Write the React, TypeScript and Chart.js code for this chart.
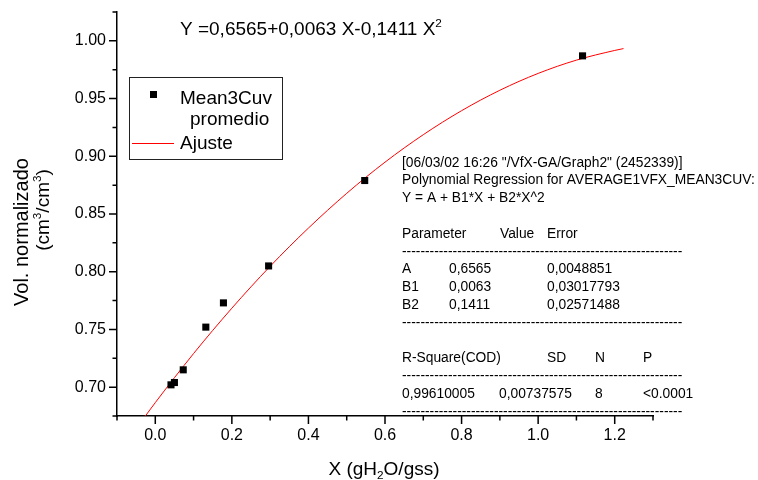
import React, { useEffect, useRef } from "react";
import { Chart, registerables } from "chart.js";

Chart.register(...registerables);

const FONT = "'Liberation Sans', Arial, sans-serif";

// Measured data points (Mean3Cuv promedio)
const MEAN_X = [0.041, 0.05, 0.073, 0.132, 0.178, 0.296, 0.547, 1.116];
const MEAN_Y = [0.702, 0.704, 0.715, 0.752, 0.773, 0.805, 0.879, 0.987];

// Fitted curve (Ajuste)
const FIT_X = [-0.026, 0.0, 0.1, 0.2, 0.3, 0.4, 0.5, 0.6, 0.7, 0.8, 0.9, 1.0, 1.1, 1.2, 1.223];
const FIT_Y = [0.675, 0.6866, 0.7291, 0.7684, 0.8047, 0.8378, 0.8679, 0.8949, 0.9187, 0.9395, 0.9572, 0.9718, 0.9833, 0.9917, 0.9933];

// Axis ticks
const X_TICKS = [0, 0.2, 0.4, 0.6, 0.8, 1.0, 1.2];
const X_MINOR = [-0.1, 0.1, 0.3, 0.5, 0.7, 0.9, 1.1, 1.3];
const Y_TICKS = [0.7, 0.75, 0.8, 0.85, 0.9, 0.95, 1.0];
const Y_MINOR = [0.675, 0.725, 0.775, 0.825, 0.875, 0.925, 0.975, 1.025];

// Texts
const EQUATION = "Y =0,6565+0,0063 X-0,1411 X";
const LEGEND_LABELS = ["Mean3Cuv", "promedio", "Ajuste"];
const REPORT_HEADER = [
  "[06/03/02 16:26 \"/VfX-GA/Graph2\" (2452339)]",
  "Polynomial Regression for AVERAGE1VFX_MEAN3CUV:",
  "Y = A + B1*X + B2*X^2",
];
const PARAM_HEAD = ["Parameter", "Value", "Error"];
const PARAM_NAMES = ["A", "B1", "B2"];
const PARAM_VALUES = ["0,6565", "0,0063", "0,1411"];
const PARAM_ERRORS = ["0,0048851", "0,03017793", "0,02571488"];
const STAT_HEAD = ["R-Square(COD)", "SD", "N", "P"];
const STAT_VALUES = ["0,99610005", "0,00737575", "8", "<0.0001"];

type Seg = { t: string; mode?: "sup" | "sub" };

function drawRich(ctx: CanvasRenderingContext2D, segs: Seg[], x: number, y: number, size: number, align: "left" | "center") {
  const widths = segs.map((s) => {
    ctx.font = `${s.mode ? size * 0.62 : size}px ${FONT}`;
    return ctx.measureText(s.t).width;
  });
  const total = widths.reduce((a, b) => a + b, 0);
  let cx = align === "center" ? x - total / 2 : x;
  ctx.textAlign = "left";
  ctx.textBaseline = "alphabetic";
  segs.forEach((s, i) => {
    ctx.font = `${s.mode ? size * 0.62 : size}px ${FONT}`;
    const dy = s.mode === "sup" ? -size * 0.42 : s.mode === "sub" ? size * 0.22 : 0;
    ctx.fillText(s.t, cx, y + dy);
    cx += widths[i];
  });
}

const decorPlugin = {
  id: "decor",
  afterDraw(chart: any) {
    const ctx: CanvasRenderingContext2D = chart.ctx;
    const xs = chart.scales.x;
    const ys = chart.scales.y;
    const area = chart.chartArea;
    ctx.save();
    ctx.fillStyle = "#000";
    ctx.strokeStyle = "#000";

    // tick marks
    ctx.lineWidth = 1.5;
    ctx.beginPath();
    X_TICKS.forEach((v) => {
      const px = xs.getPixelForValue(v);
      ctx.moveTo(px, area.bottom);
      ctx.lineTo(px, area.bottom + 8);
    });
    X_MINOR.forEach((v) => {
      const px = xs.getPixelForValue(v);
      ctx.moveTo(px, area.bottom);
      ctx.lineTo(px, area.bottom + 4.5);
    });
    Y_TICKS.forEach((v) => {
      const py = ys.getPixelForValue(v);
      ctx.moveTo(area.left, py);
      ctx.lineTo(area.left - 8, py);
    });
    Y_MINOR.forEach((v) => {
      const py = ys.getPixelForValue(v);
      ctx.moveTo(area.left, py);
      ctx.lineTo(area.left - 4.5, py);
    });
    ctx.stroke();

    // equation title
    drawRich(ctx, [{ t: EQUATION }, { t: "2", mode: "sup" }], 180, 35, 19, "left");

    // legend box
    ctx.lineWidth = 1;
    ctx.strokeStyle = "#222";
    ctx.strokeRect(129.5, 77.5, 153, 82);
    ctx.fillStyle = "#000";
    ctx.fillRect(150, 91, 7, 7);
    ctx.font = `19px ${FONT}`;
    ctx.textAlign = "left";
    ctx.textBaseline = "alphabetic";
    ctx.fillText(LEGEND_LABELS[0], 180, 104);
    ctx.fillText(LEGEND_LABELS[1], 190, 125);
    ctx.fillText(LEGEND_LABELS[2], 180, 148.5);
    ctx.strokeStyle = "#ff0000";
    ctx.beginPath();
    ctx.moveTo(132, 143.5);
    ctx.lineTo(174, 143.5);
    ctx.stroke();

    // axis titles
    ctx.fillStyle = "#000";
    drawRich(ctx, [{ t: "X (gH" }, { t: "2", mode: "sub" }, { t: "O/gss)" }], 384, 475, 19, "center");
    ctx.save();
    ctx.translate(28, 232);
    ctx.rotate(-Math.PI / 2);
    drawRich(ctx, [{ t: "Vol. normalizado" }], 0, 0, 20, "center");
    ctx.restore();
    ctx.save();
    ctx.translate(49, 210);
    ctx.rotate(-Math.PI / 2);
    drawRich(ctx, [{ t: "(cm" }, { t: "3", mode: "sup" }, { t: "/cm" }, { t: "3", mode: "sup" }, { t: ")" }], 0, 0, 19, "center");
    ctx.restore();

    // regression report
    const fs = 13.8;
    const lh = 17.8;
    const b0 = 166.5;
    const L = 402;
    ctx.font = `${fs}px ${FONT}`;
    ctx.textAlign = "left";
    ctx.textBaseline = "alphabetic";
    const row = (n: number) => b0 + n * lh;
    REPORT_HEADER.forEach((t, i) => ctx.fillText(t, L, row(i)));
    ctx.fillText(PARAM_HEAD[0], L, row(4));
    ctx.fillText(PARAM_HEAD[1], 500, row(4));
    ctx.fillText(PARAM_HEAD[2], 547, row(4));
    const dw = ctx.measureText("-").width;
    const dashes = "-".repeat(Math.floor(282 / dw));
    [5, 9, 12, 14].forEach((n) => ctx.fillText(dashes, L, row(n)));
    PARAM_NAMES.forEach((t, i) => {
      ctx.fillText(t, L, row(6 + i));
      ctx.fillText(PARAM_VALUES[i], 449, row(6 + i));
      ctx.fillText(PARAM_ERRORS[i], 547, row(6 + i));
    });
    const statX = [L, 547, 595, 643];
    const statVX = [L, 499, 595, 643];
    STAT_HEAD.forEach((t, i) => ctx.fillText(t, statX[i], row(11)));
    STAT_VALUES.forEach((t, i) => ctx.fillText(t, statVX[i], row(13)));

    ctx.restore();
  },
};

export default function App() {
  const ref = useRef<HTMLCanvasElement | null>(null);

  useEffect(() => {
    if (!ref.current) return;
    const chart = new Chart(ref.current, {
      type: "scatter",
      data: {
        datasets: [
          {
            label: "Mean3Cuv promedio",
            data: MEAN_X.map((x, i) => ({ x, y: MEAN_Y[i] })),
            pointStyle: "rect",
            pointRadius: 5,
            pointHoverRadius: 5,
            backgroundColor: "#000",
            borderColor: "#000",
            borderWidth: 0,
            showLine: false,
          },
          {
            label: "Ajuste",
            data: FIT_X.map((x, i) => ({ x, y: FIT_Y[i] })),
            showLine: true,
            borderColor: "#ff0000",
            backgroundColor: "#ff0000",
            borderWidth: 1,
            pointRadius: 0,
            pointHoverRadius: 0,
            cubicInterpolationMode: "monotone",
            fill: false,
          } as any,
        ],
      },
      options: {
        animation: false,
        responsive: false,
        events: [],
        layout: { padding: { left: 0, right: 105, top: 12, bottom: 0 } },
        plugins: { legend: { display: false }, tooltip: { enabled: false }, title: { display: false } },
        scales: {
          x: {
            type: "linear",
            min: -0.1,
            max: 1.3,
            afterFit: (s: any) => {
              s.height = 64;
              s.paddingLeft = 0;
              s.paddingRight = 0;
            },
            afterBuildTicks: (s: any) => {
              s.ticks = X_TICKS.map((v) => ({ value: v }));
            },
            ticks: {
              callback: (v: any) => Number(v).toFixed(1),
              font: { family: FONT, size: 16 },
              color: "#000",
              padding: 10,
              maxRotation: 0,
              autoSkip: false,
            },
            grid: { display: false, drawTicks: false },
            border: { display: true, color: "#000", width: 1.5 },
          },
          y: {
            type: "linear",
            min: 0.675,
            max: 1.025,
            afterFit: (s: any) => {
              s.width = 117;
              s.paddingTop = 0;
              s.paddingBottom = 0;
            },
            afterBuildTicks: (s: any) => {
              s.ticks = Y_TICKS.map((v) => ({ value: v }));
            },
            ticks: {
              callback: (v: any) => Number(v).toFixed(2),
              font: { family: FONT, size: 16 },
              color: "#000",
              padding: 11,
              autoSkip: false,
            },
            grid: { display: false, drawTicks: false },
            border: { display: true, color: "#000", width: 1.5 },
          },
        },
      } as any,
      plugins: [decorPlugin],
    });
    return () => chart.destroy();
  }, []);

  return (
    <div style={{ position: "absolute", left: 0, top: 0, width: 758, height: 480, background: "#fff" }}>
      <canvas ref={ref} width={758} height={480} style={{ width: 758, height: 480, display: "block" }} />
    </div>
  );
}
